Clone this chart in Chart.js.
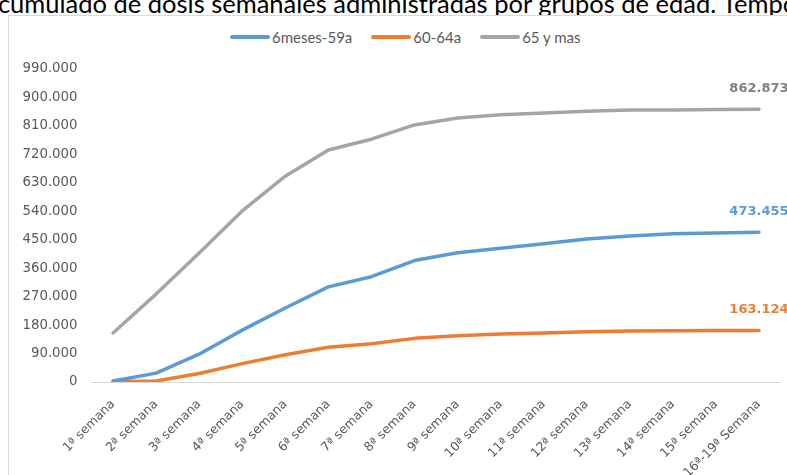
<!DOCTYPE html>
<html>
<head>
<meta charset="utf-8">
<script src="https://cdn.jsdelivr.net/npm/chart.js@4/dist/chart.umd.min.js"></script>
<style>
  html, body { margin: 0; padding: 0; background: #fff; }
  body { width: 787px; height: 475px; overflow: hidden; position: relative; }
  #title {
    position: absolute; left: -19px; top: -11px; white-space: nowrap; line-height: 28px;
    font-family: Lato, "Open Sans", sans-serif; font-size: 25.5px; color: #000;
  }
  #box {
    position: absolute; left: 8px; top: 15px; width: 797px; height: 490px;
    border: 1px solid #d9d9d9; background: #fff;
  }
  #box canvas { position: absolute; left: 0; top: 0; }
  #legend {
    position: absolute; left: 221px; top: 11px; height: 20px;
    display: flex; align-items: center;
    font-family: Lato, "Open Sans", sans-serif; font-size: 15px; color: #595959;
  }
  #legend .item { display: flex; align-items: center; margin-right: 19px; }
  #legend .sw { width: 40px; height: 4px; margin-right: 2px; border-radius: 2px; }
</style>
</head>
<body>
<div id="title">Acumulado de dosis semanales administradas por grupos de edad. Temporada 2020-2021</div>
<div id="box">
  <div id="legend"></div>
  <canvas id="c" width="800" height="460"></canvas>
</div>
<script>
// Weeks of the campaign
const semanas = [
  '1ª semana', '2ª semana', '3ª semana', '4ª semana', '5ª semana', '6ª semana',
  '7ª semana', '8ª semana', '9ª semana', '10ª semana', '11ª semana', '12ª semana',
  '13ª semana', '14ª semana', '15ª semana', '16ª-19ª Semana'
];

// Cumulative doses per age group
const dosis6m59 = [3000, 28000, 88000, 164000, 234000, 301000, 333000, 384000,
                   409000, 423000, 437000, 452000, 462000, 469000, 471000, 473455];
const dosis6064 = [1000, 3000, 27000, 58000, 86000, 110000, 121000, 138000,
                   146000, 152000, 155000, 159000, 161000, 162000, 162500, 163124];
const dosis65 = [155000, 278000, 408000, 541000, 651000, 734000, 768000, 813000,
                 835000, 845000, 851000, 856000, 860000, 860500, 862000, 862873];

const nombres = ['6meses-59a', '60-64a', '65 y mas'];
const colores = ['#5b9bd5', '#ed7d31', '#a5a5a5'];
const coloresEtiqueta = ['#5b9bd5', '#ed7d31', '#7f7f7f'];
const series = [dosis6m59, dosis6064, dosis65];

const fmt = v => Math.round(v).toString().replace(/\B(?=(\d{3})+(?!\d))/g, '.');

// Value label over the final point of each line
const ultimoValor = {
  id: 'ultimoValor',
  afterDatasetsDraw(chart) {
    const ctx = chart.ctx;
    ctx.save();
    ctx.font = 'bold 13px "DejaVu Sans", sans-serif';
    ctx.textAlign = 'center';
    ctx.textBaseline = 'middle';
    chart.data.datasets.forEach((ds, i) => {
      const meta = chart.getDatasetMeta(i);
      const last = meta.data[meta.data.length - 1];
      ctx.fillStyle = coloresEtiqueta[i];
      ctx.fillText(fmt(ds.data[ds.data.length - 1]), last.x, last.y - 21);
    });
    ctx.restore();
  }
};

const chart = new Chart(document.getElementById('c'), {
  type: 'line',
  data: {
    labels: semanas,
    datasets: series.map((d, i) => ({
      label: nombres[i],
      data: d,
      borderColor: colores[i],
      backgroundColor: colores[i],
      borderWidth: 3.5,
      pointRadius: 0,
      tension: 0,
      borderCapStyle: 'round',
      borderJoinStyle: 'round'
    }))
  },
  options: {
    responsive: false,
    animation: false,
    layout: { padding: { top: 53, left: 0, right: 28.5, bottom: 0 } },
    plugins: { legend: { display: false }, tooltip: { enabled: false } },
    scales: {
      x: {
        offset: true,
        grid: { display: false },
        border: { display: true, color: '#d9d9d9', width: 1 },
        ticks: {
          color: '#595959', minRotation: 45, maxRotation: 45, autoSkip: false,
          padding: 7,
          font: { family: '"DejaVu Sans", sans-serif', size: 12.5 }
        },
        afterFit(s) { s.height = 94; }
      },
      y: {
        min: 0, max: 990000,
        grid: { display: false },
        border: { display: false },
        ticks: {
          stepSize: 90000, color: '#595959', padding: 6,
          font: { family: '"DejaVu Sans", sans-serif', size: 13.3 },
          callback: v => fmt(v)
        },
        afterFit(s) { s.width = 82.5; }
      }
    }
  },
  plugins: [ultimoValor]
});

// Legend built from the datasets
const leg = document.getElementById('legend');
chart.data.datasets.forEach(ds => {
  const it = document.createElement('span');
  it.className = 'item';
  const sw = document.createElement('span');
  sw.className = 'sw';
  sw.style.background = ds.borderColor;
  const tx = document.createElement('span');
  tx.textContent = ds.label;
  it.appendChild(sw);
  it.appendChild(tx);
  leg.appendChild(it);
});
</script>
</body>
</html>
